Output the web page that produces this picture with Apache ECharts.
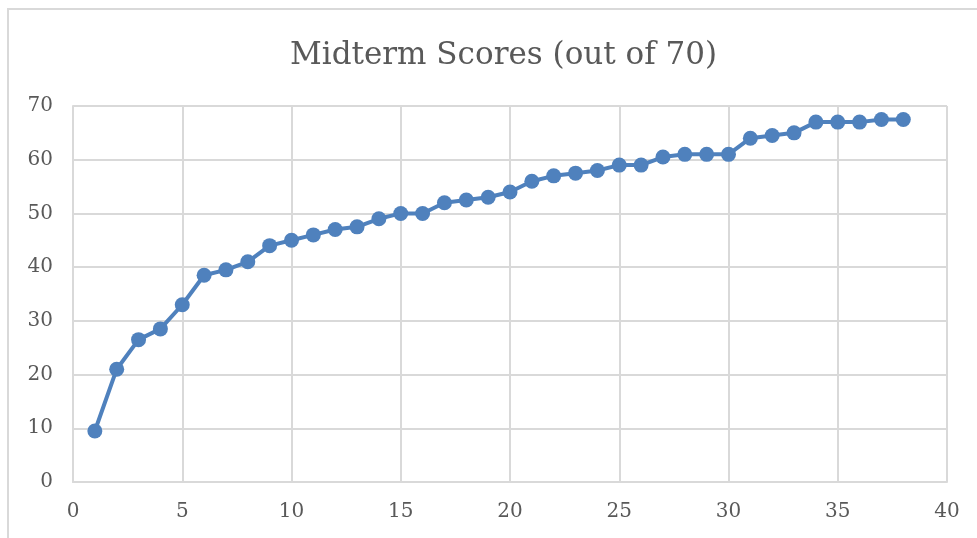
<!DOCTYPE html>
<html>
<head>
<meta charset="utf-8">
<script src="https://cdn.jsdelivr.net/npm/echarts@6/dist/echarts.min.js"></script>
<style>
  html, body { margin: 0; padding: 0; background: #fff; }
  #chart { width: 977px; height: 538px; }
</style>
</head>
<body>
<div id="chart"></div>
<script>
// student rank (x) and midterm score (y)
const students = [1, 2, 3, 4, 5, 6, 7, 8, 9, 10, 11, 12, 13, 14, 15, 16, 17, 18, 19,
  20, 21, 22, 23, 24, 25, 26, 27, 28, 29, 30, 31, 32, 33, 34, 35, 36, 37, 38];
const scores = [9.5, 21, 26.5, 28.5, 33, 38.5, 39.5, 41, 44, 45, 46, 47, 47.5, 49, 50, 50, 52, 52.5, 53,
  54, 56, 57, 57.5, 58, 59, 59, 60.5, 61, 61, 61, 64, 64.5, 65, 67, 67, 67, 67.5, 67.5];

const titleText = 'Midterm Scores (out of 70)';
const fontFamily = '"DejaVu Serif", serif';
const textColor = '#595959';
const gridColor = '#d9d9d9';

const chart = echarts.init(document.getElementById('chart'));
chart.setOption({
  animation: false,
  backgroundColor: '#fff',
  title: {
    text: titleText,
    left: 285,
    top: 35,
    textStyle: { fontFamily, fontSize: 31, fontWeight: 'normal', color: textColor }
  },
  graphic: [{
    type: 'rect',
    shape: { x: 8, y: 9, width: 1000, height: 600 },
    style: { fill: 'none', stroke: gridColor, lineWidth: 2 },
    silent: true
  }],
  grid: { left: 73, right: 30, top: 106, bottom: 56 },
  xAxis: {
    type: 'value',
    min: 0,
    max: 40,
    interval: 5,
    axisLine: { show: true, lineStyle: { color: gridColor, width: 2 } },
    axisTick: { show: false },
    axisLabel: { color: textColor, fontFamily, fontSize: 20, margin: 20 },
    splitLine: { show: true, lineStyle: { color: gridColor, width: 2 } }
  },
  yAxis: {
    type: 'value',
    min: 0,
    max: 70,
    interval: 10,
    axisLine: { show: true, lineStyle: { color: gridColor, width: 2 } },
    axisTick: { show: false },
    axisLabel: { color: textColor, fontFamily, fontSize: 20, margin: 20 },
    splitLine: { show: true, lineStyle: { color: gridColor, width: 2 } }
  },
  series: [{
    type: 'line',
    data: students.map((s, i) => [s, scores[i]]),
    symbol: 'circle',
    symbolSize: 15,
    lineStyle: { color: '#4f81bd', width: 4 },
    itemStyle: { color: '#4f81bd' }
  }]
});
</script>
</body>
</html>
